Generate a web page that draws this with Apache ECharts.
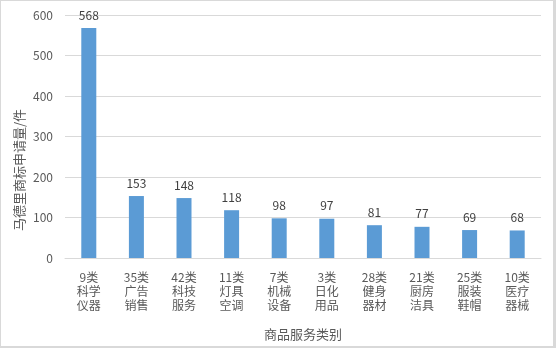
<!DOCTYPE html>
<html>
<head>
<meta charset="utf-8">
<script src="https://cdn.jsdelivr.net/npm/echarts@6/dist/echarts.min.js"></script>
<style>
  html, body { margin: 0; padding: 0; background: #fff; }
  #chart { width: 556px; height: 348px; box-sizing: border-box; border: 1px solid #d9d9d9; border-right-width: 3px; border-bottom-width: 2px; }
</style>
</head>
<body>
<div id="chart"></div>
<script>
// 商品服务类别
var categories = [
  '9类\n科学\n仪器', '35类\n广告\n销售', '42类\n科技\n服务', '11类\n灯具\n空调', '7类\n机械\n设备',
  '3类\n日化\n用品', '28类\n健身\n器材', '21类\n厨房\n洁具', '25类\n服装\n鞋帽', '10类\n医疗\n器械'
];
// 马德里商标申请量/件
var counts = [568, 153, 148, 118, 98, 97, 81, 77, 69, 68];
var yTicks = [0, 100, 200, 300, 400, 500, 600];

var font = '"Microsoft YaHei", "Noto Sans CJK SC", sans-serif';
var myChart = echarts.init(document.getElementById('chart'));

var option = {
  animation: false,
  textStyle: { fontFamily: font },
  grid: { left: 64, right: 12, top: 14, bottom: 87 },
  graphic: [{
    type: 'text',
    left: 12,
    top: 108,
    rotation: Math.PI / 2,
    style: {
      text: '马德里商标申请量/件',
      fill: '#595959',
      font: '13px ' + font
    }
  }],
  xAxis: {
    type: 'category',
    data: categories,
    name: '商品服务类别',
    nameLocation: 'middle',
    nameGap: 70,
    nameTextStyle: { color: '#595959', fontSize: 13 },
    axisTick: { show: false },
    axisLine: { lineStyle: { color: '#d9d9d9' } },
    axisLabel: { color: '#595959', fontSize: 12, lineHeight: 14, margin: 12, interval: 0 }
  },
  yAxis: {
    type: 'value',
    min: yTicks[0],
    max: yTicks[yTicks.length - 1],
    interval: 100,
    axisLine: { show: false },
    axisTick: { show: false },
    axisLabel: { color: '#595959', fontSize: 12, margin: 12 },
    splitLine: { lineStyle: { color: '#d9d9d9' } }
  },
  series: [{
    type: 'bar',
    data: counts,
    barWidth: 15,
    itemStyle: { color: '#5b9bd5' },
    label: {
      show: true,
      position: 'top',
      distance: 7,
      color: '#404040',
      fontSize: 12
    }
  }]
};

myChart.setOption(option);
</script>
</body>
</html>
